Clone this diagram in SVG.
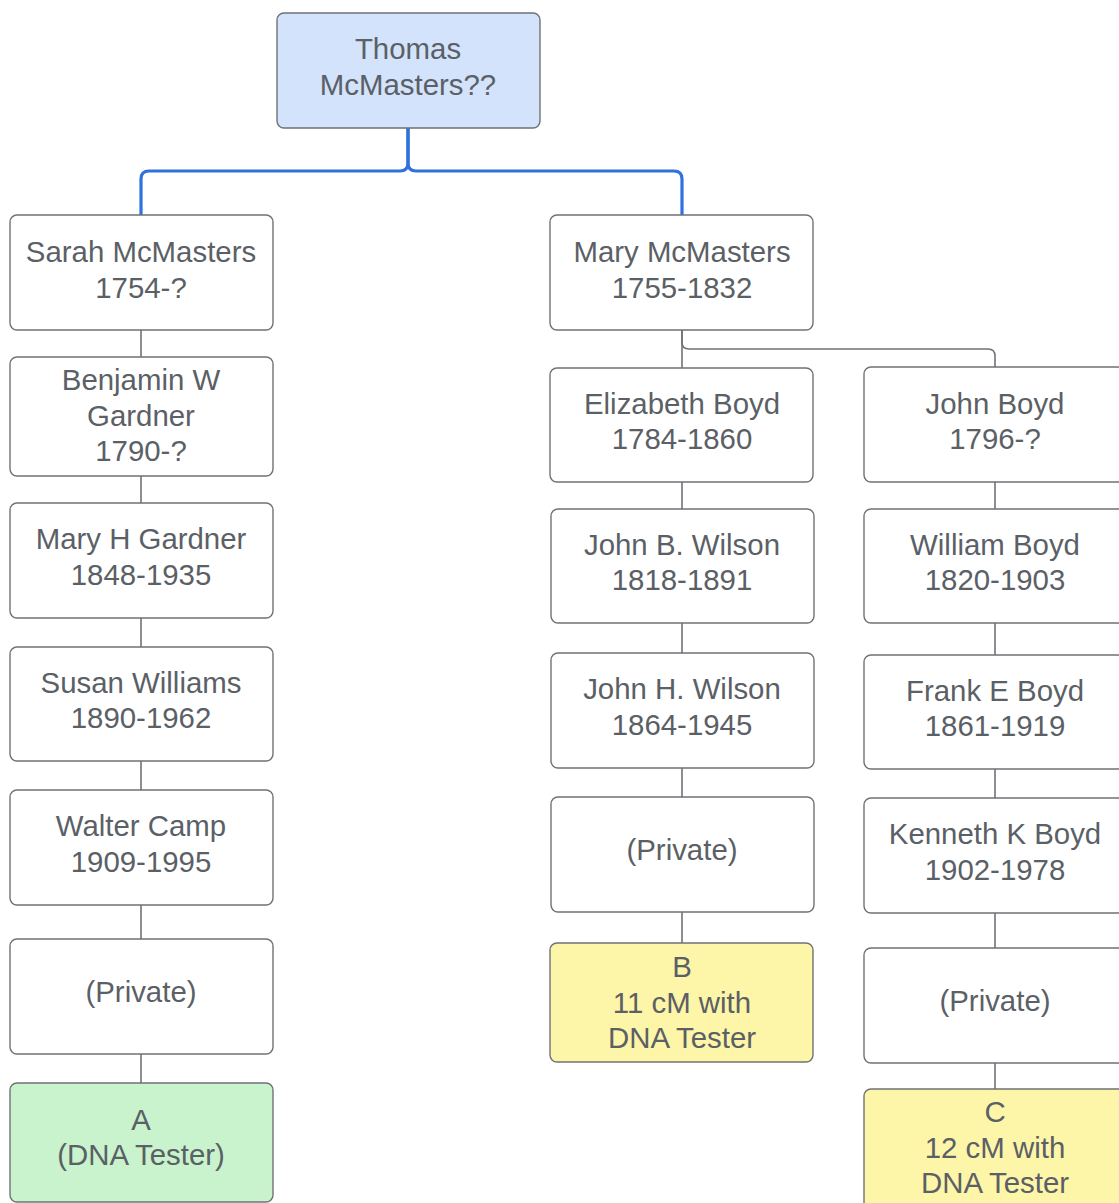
<svg xmlns="http://www.w3.org/2000/svg" width="1119" height="1203" viewBox="0 0 1119 1203">
<style>
.box{fill:#ffffff;stroke:#6f7277;stroke-width:1.4}
.blue{fill:#d3e3fb}
.green{fill:#c8f3cc}
.yellow{fill:#fdf5a8}
.t{font-family:"Liberation Sans",Arial,sans-serif;font-size:29.4px;fill:#5b5f66;text-anchor:middle}
.c{fill:none;stroke:#6f7277;stroke-width:1.6}
.cb{fill:none;stroke:#2f72dc;stroke-width:3.2}
</style>
<rect width="1119" height="1203" fill="#ffffff"/>
<g id="connectors">
<path class="cb" d="M408 128 V163 Q408 171 400 171 H149 Q141 171 141 179 V215"/>
<path class="cb" d="M408 128 V163 Q408 171 416 171 H674 Q682 171 682 179 V215"/>
<path class="c" d="M141 330 V357"/>
<path class="c" d="M141 476 V503"/>
<path class="c" d="M141 618 V647"/>
<path class="c" d="M141 761 V790"/>
<path class="c" d="M141 905 V939"/>
<path class="c" d="M141 1054 V1083"/>
<path class="c" d="M682 330 V368"/>
<path class="c" d="M682 330 V342 Q682 349 689 349 H988 Q995 349 995 356 V367"/>
<path class="c" d="M682 482 V509"/>
<path class="c" d="M682 623 V653"/>
<path class="c" d="M682 768 V797"/>
<path class="c" d="M682 912 V943"/>
<path class="c" d="M995 482 V509"/>
<path class="c" d="M995 623 V655"/>
<path class="c" d="M995 769 V798"/>
<path class="c" d="M995 913 V948"/>
<path class="c" d="M995 1063 V1089"/>
</g>
<g id="thomas"><rect class="box blue" x="277" y="13" width="263" height="115" rx="7"/><text class="t" x="408" y="59">Thomas</text><text class="t" x="408" y="95">McMasters??</text></g>
<g id="sarah"><rect class="box" x="10" y="215" width="263" height="115" rx="7"/><text class="t" x="141" y="262">Sarah McMasters</text><text class="t" x="141" y="298">1754-?</text></g>
<g id="benjamin"><rect class="box" x="10" y="357" width="263" height="119" rx="7"/><text class="t" x="141" y="390">Benjamin W</text><text class="t" x="141" y="426">Gardner</text><text class="t" x="141" y="461">1790-?</text></g>
<g id="maryh"><rect class="box" x="10" y="503" width="263" height="115" rx="7"/><text class="t" x="141" y="549">Mary H Gardner</text><text class="t" x="141" y="585">1848-1935</text></g>
<g id="susan"><rect class="box" x="10" y="647" width="263" height="114" rx="7"/><text class="t" x="141" y="693">Susan Williams</text><text class="t" x="141" y="728">1890-1962</text></g>
<g id="walter"><rect class="box" x="10" y="790" width="263" height="115" rx="7"/><text class="t" x="141" y="836">Walter Camp</text><text class="t" x="141" y="872">1909-1995</text></g>
<g id="private-left"><rect class="box" x="10" y="939" width="263" height="115" rx="7"/><text class="t" x="141" y="1002">(Private)</text></g>
<g id="a"><rect class="box green" x="10" y="1083" width="263" height="119" rx="7"/><text class="t" x="141" y="1130">A</text><text class="t" x="141" y="1165">(DNA Tester)</text></g>
<g id="marym"><rect class="box" x="550" y="215" width="263" height="115" rx="7"/><text class="t" x="682" y="262">Mary McMasters</text><text class="t" x="682" y="298">1755-1832</text></g>
<g id="elizabeth"><rect class="box" x="550" y="368" width="263" height="114" rx="7"/><text class="t" x="682" y="414">Elizabeth Boyd</text><text class="t" x="682" y="449">1784-1860</text></g>
<g id="johnb"><rect class="box" x="551" y="509" width="263" height="114" rx="7"/><text class="t" x="682" y="555">John B. Wilson</text><text class="t" x="682" y="590">1818-1891</text></g>
<g id="johnh"><rect class="box" x="551" y="653" width="263" height="115" rx="7"/><text class="t" x="682" y="699">John H. Wilson</text><text class="t" x="682" y="735">1864-1945</text></g>
<g id="private-mid"><rect class="box" x="551" y="797" width="263" height="115" rx="7"/><text class="t" x="682" y="860">(Private)</text></g>
<g id="b"><rect class="box yellow" x="550" y="943" width="263" height="119" rx="7"/><text class="t" x="682" y="977">B</text><text class="t" x="682" y="1013">11 cM with</text><text class="t" x="682" y="1048">DNA Tester</text></g>
<g id="johnboyd"><rect class="box" x="864" y="367" width="263" height="115" rx="7"/><text class="t" x="995" y="414">John Boyd</text><text class="t" x="995" y="449">1796-?</text></g>
<g id="william"><rect class="box" x="864" y="509" width="263" height="114" rx="7"/><text class="t" x="995" y="555">William Boyd</text><text class="t" x="995" y="590">1820-1903</text></g>
<g id="frank"><rect class="box" x="864" y="655" width="263" height="114" rx="7"/><text class="t" x="995" y="701">Frank E Boyd</text><text class="t" x="995" y="736">1861-1919</text></g>
<g id="kenneth"><rect class="box" x="864" y="798" width="263" height="115" rx="7"/><text class="t" x="995" y="844">Kenneth K Boyd</text><text class="t" x="995" y="880">1902-1978</text></g>
<g id="private-right"><rect class="box" x="864" y="948" width="263" height="115" rx="7"/><text class="t" x="995" y="1011">(Private)</text></g>
<g id="c"><rect class="box yellow" x="864" y="1089" width="263" height="125" rx="7"/><text class="t" x="995" y="1122">C</text><text class="t" x="995" y="1158">12 cM with</text><text class="t" x="995" y="1193">DNA Tester</text></g>
</svg>
